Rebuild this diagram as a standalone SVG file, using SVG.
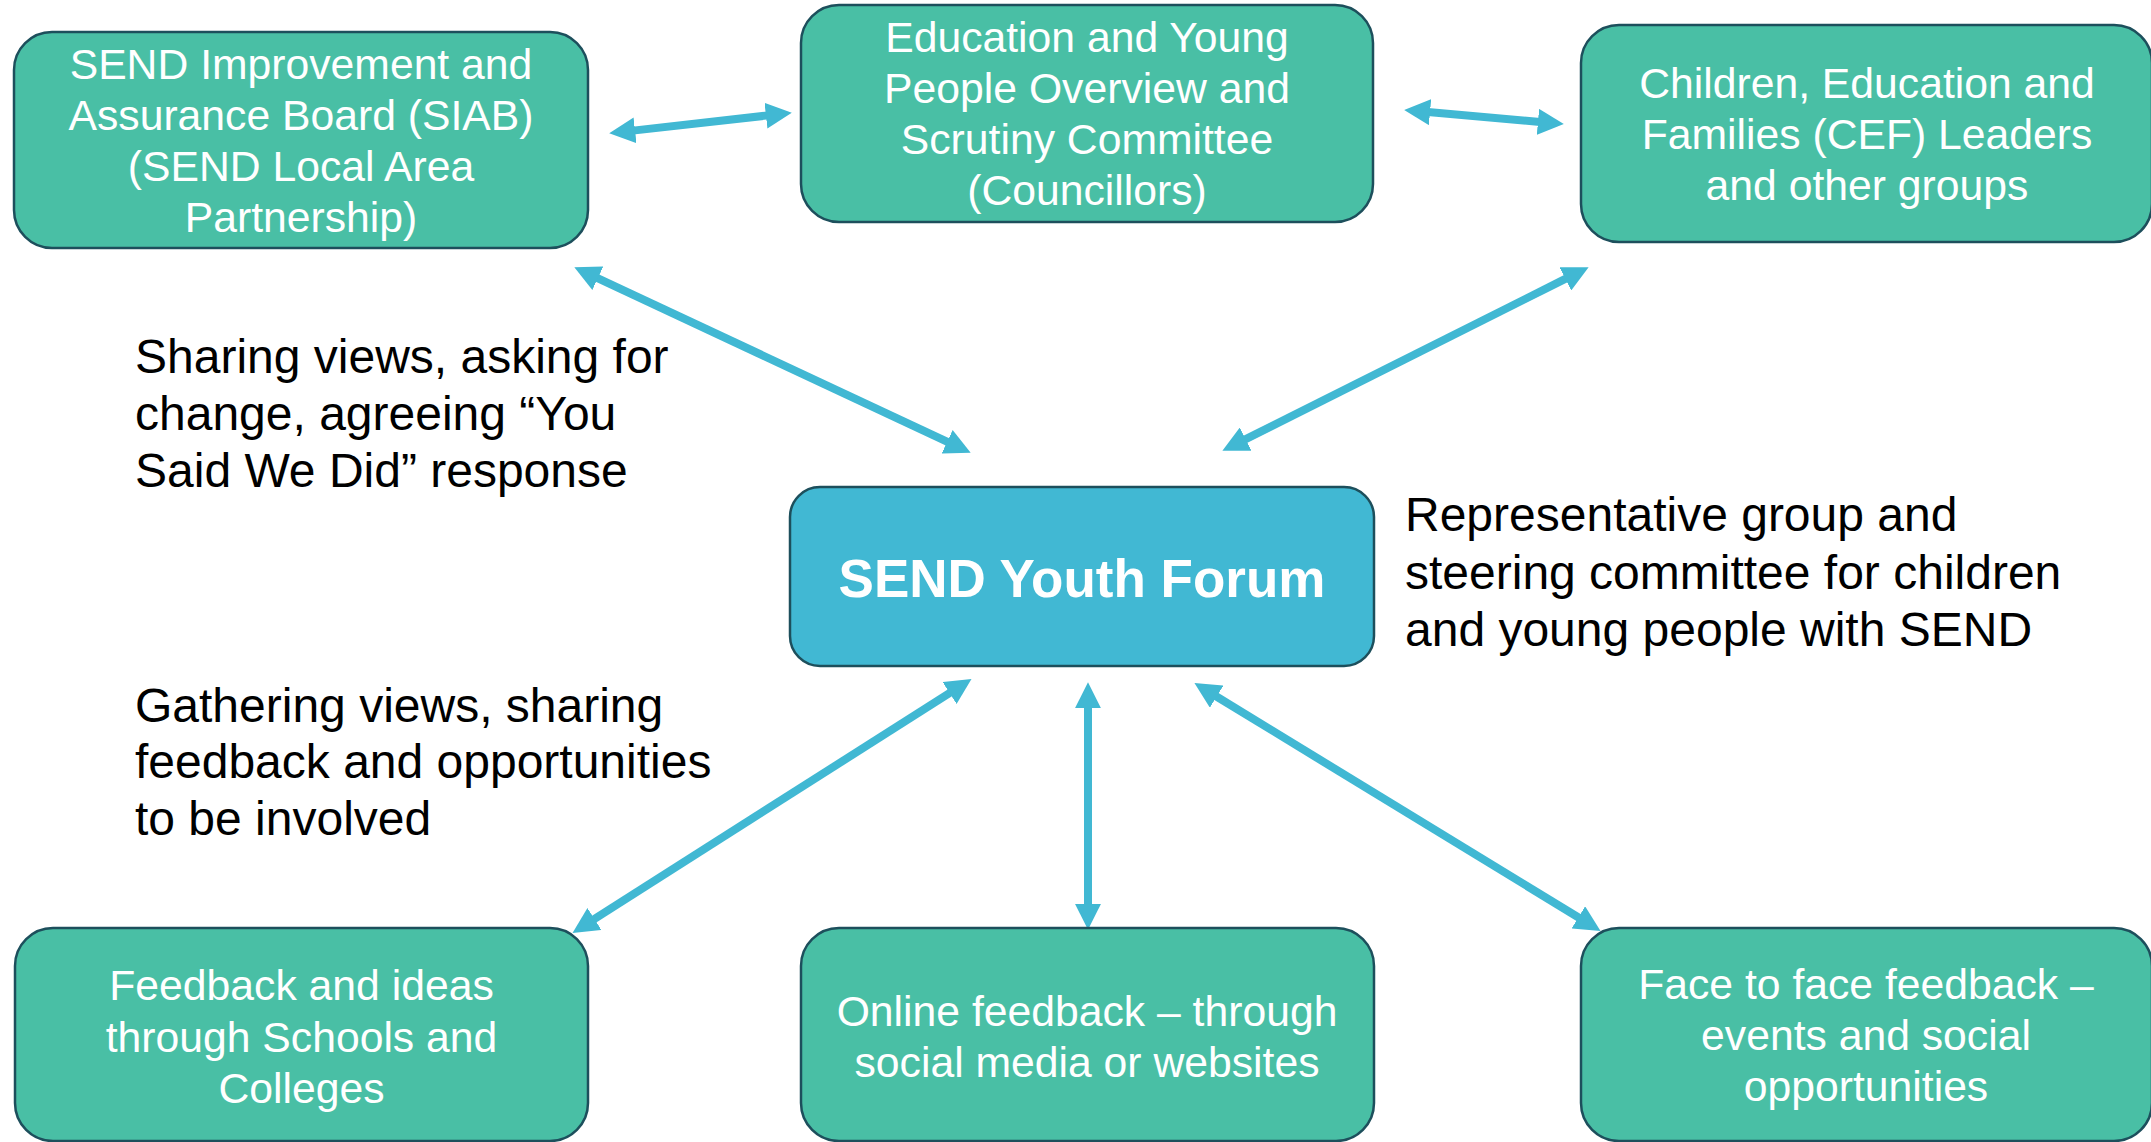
<svg xmlns="http://www.w3.org/2000/svg" width="2151" height="1142" viewBox="0 0 2151 1142">
<style>
.box{fill:#49BFA5;stroke:#1D4F5C;stroke-width:2.5}
.hub{fill:#41B8D3;stroke:#1D4F5C;stroke-width:2.5}
.bt{font-family:"Liberation Sans",Arial,sans-serif;font-size:42.7px;fill:#FFFFFF;text-anchor:middle}
.ht{font-family:"Liberation Sans",Arial,sans-serif;font-size:53px;font-weight:bold;fill:#FFFFFF;text-anchor:middle}
.lt{font-family:"Liberation Sans",Arial,sans-serif;font-size:48px;fill:#000000}
.ar{stroke:#41B8D3;stroke-width:8;fill:none;marker-start:url(#ah);marker-end:url(#ah)}
</style>
<defs>
<marker id="ah" markerUnits="userSpaceOnUse" markerWidth="26" markerHeight="26" viewBox="0 0 24 24" refX="2" refY="12" orient="auto-start-reverse">
<path d="M0,0 L24,12 L0,24 Z" fill="#41B8D3"/>
</marker>
</defs>
<rect width="2151" height="1142" fill="#FFFFFF"/>
<g id="connectors">
<line class="ar" x1="632.9" y1="130.6" x2="768.1" y2="115.4"/>
<line class="ar" x1="1427.9" y1="112" x2="1540.1" y2="122"/>
<line class="ar" x1="595.9" y1="277.3" x2="949.1" y2="442.7"/>
<line class="ar" x1="1567.3" y1="277.9" x2="1243.7" y2="440.1"/>
<line class="ar" x1="951.4" y1="691.8" x2="592.6" y2="920.2"/>
<line class="ar" x1="1088" y1="706" x2="1088" y2="906"/>
<line class="ar" x1="1214.8" y1="695.5" x2="1580.2" y2="918.5"/>
</g>
<g id="siab">
<rect class="box" x="14" y="32" width="574" height="216" rx="38"/>
<text class="bt" x="301" y="79">SEND Improvement and</text>
<text class="bt" x="301" y="130">Assurance Board (SIAB)</text>
<text class="bt" x="301" y="181">(SEND Local Area</text>
<text class="bt" x="301" y="232">Partnership)</text>
</g>
<g id="scrutiny">
<rect class="box" x="801" y="5" width="572" height="217" rx="38"/>
<text class="bt" x="1087" y="52">Education and Young</text>
<text class="bt" x="1087" y="103">People Overview and</text>
<text class="bt" x="1087" y="154">Scrutiny Committee</text>
<text class="bt" x="1087" y="205">(Councillors)</text>
</g>
<g id="cef">
<rect class="box" x="1581" y="25" width="571" height="217" rx="38"/>
<text class="bt" x="1867" y="98">Children, Education and</text>
<text class="bt" x="1867" y="149">Families (CEF) Leaders</text>
<text class="bt" x="1867" y="200">and other groups</text>
</g>
<g id="forum">
<rect class="hub" x="790" y="487" width="584" height="179" rx="30"/>
<text class="ht" x="1082" y="597">SEND Youth Forum</text>
</g>
<g id="schools">
<rect class="box" x="15" y="928" width="573" height="213" rx="38"/>
<text class="bt" x="301.5" y="1000">Feedback and ideas</text>
<text class="bt" x="301.5" y="1052">through Schools and</text>
<text class="bt" x="301.5" y="1103">Colleges</text>
</g>
<g id="online">
<rect class="box" x="801" y="928" width="573" height="213" rx="38"/>
<text class="bt" x="1087" y="1026">Online feedback – through</text>
<text class="bt" x="1087" y="1077">social media or websites</text>
</g>
<g id="face">
<rect class="box" x="1581" y="928" width="571" height="213" rx="38"/>
<text class="bt" x="1866" y="999">Face to face feedback –</text>
<text class="bt" x="1866" y="1050">events and social</text>
<text class="bt" x="1866" y="1101">opportunities</text>
</g>
<g id="label-sharing">
<text class="lt" x="135" y="373">Sharing views, asking for</text>
<text class="lt" x="135" y="430">change, agreeing “You</text>
<text class="lt" x="135" y="487">Said We Did” response</text>
</g>
<g id="label-gathering">
<text class="lt" x="135" y="722">Gathering views, sharing</text>
<text class="lt" x="135" y="778">feedback and opportunities</text>
<text class="lt" x="135" y="835">to be involved</text>
</g>
<g id="label-representative">
<text class="lt" x="1405" y="531">Representative group and</text>
<text class="lt" x="1405" y="589">steering committee for children</text>
<text class="lt" x="1405" y="646">and young people with SEND</text>
</g>
</svg>
